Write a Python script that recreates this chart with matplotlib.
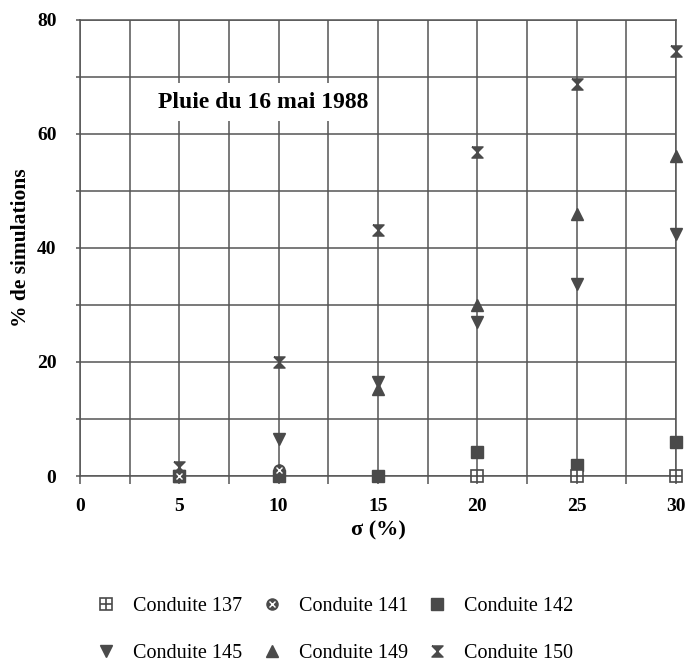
import numpy as np
import matplotlib
matplotlib.use('Agg')
import matplotlib.pyplot as plt
from matplotlib.ticker import MultipleLocator

plt.rcParams['font.family'] = ['Liberation Serif', 'DejaVu Serif']
plt.rcParams['font.weight'] = 'bold'

# sigma values (%)
sigma = [5, 10, 15, 20, 25, 30]

# % de simulations per conduite
c137 = [np.nan, np.nan, np.nan, 0.0, 0.0, 0.0]
c141 = [0.0, 1.0, np.nan, np.nan, np.nan, np.nan]
c142 = [0.0, 0.0, 0.0, 4.2, 2.0, 6.0]
c145 = [0.0, 6.5, 16.5, 27.0, 33.7, 42.5]
c149 = [0.0, 1.0, 15.2, 30.0, 46.0, 56.2]
c150 = [1.6, 20.0, 43.2, 56.8, 68.8, 74.5]

labels = ['Conduite 137', 'Conduite 141', 'Conduite 142',
          'Conduite 145', 'Conduite 149', 'Conduite 150']

col = '#4a4a4a'
hourglass = [(-1, 1), (1, 1), (-1, -1), (1, -1), (-1, 1)]

fig = plt.figure(figsize=(6.86, 6.65), dpi=100)
ax = fig.add_axes([0.1166, 0.2842, 0.8688, 0.6858])

kw = dict(ls='none', clip_on=False)
h142, = ax.plot(sigma, c142, 's', ms=8, color=col, zorder=5, **kw)
h145, = ax.plot(sigma, c145, 'v', ms=8, color=col, zorder=5, **kw)
h149, = ax.plot(sigma, c149, '^', ms=8, color=col, zorder=5, **kw)
h150, = ax.plot(sigma, c150, marker=hourglass, ms=8, color=col, zorder=5, **kw)
# 141: filled circle with cross
h141a, = ax.plot(sigma, c141, 'o', ms=8, mfc=col, mec=col, zorder=6, **kw)
h141b, = ax.plot(sigma, c141, 'x', ms=4, mec='white', mew=1.0, zorder=7, **kw)
# 137: square with a cross inside
h137a, = ax.plot(sigma, c137, 's', ms=9, mfc='white', mec=col, mew=1.2, zorder=6, **kw)
h137b, = ax.plot(sigma, c137, '+', ms=9, mec=col, mew=1.2, zorder=7, **kw)

ax.set_xlim(0, 30)
ax.set_ylim(0, 80)
ax.xaxis.set_major_locator(MultipleLocator(5))
ax.xaxis.set_minor_locator(MultipleLocator(2.5))
ax.yaxis.set_major_locator(MultipleLocator(20))
ax.yaxis.set_minor_locator(MultipleLocator(10))
ax.grid(which='both', color='#555555', lw=1.1)
ax.set_axisbelow(True)
for s in ax.spines.values():
    s.set_color('#555555')
    s.set_linewidth(1.1)
ax.tick_params(which='both', direction='out', length=6, color='#555555', width=1.1,
               labelsize=14, pad=10)
ax.tick_params(axis='y', which='both', length=3, pad=14)
for lab in ax.get_xticklabels() + ax.get_yticklabels():
    lab.set_fontweight('bold')

ax.set_xlabel('σ (%)', fontsize=16, fontweight='bold', labelpad=4)
ax.set_ylabel('% de simulations', fontsize=15.5, fontweight='bold')
ax.yaxis.set_label_coords(-0.082, 0.5)

ax.text(9.2, 65.6, 'Pluie du 16 mai 1988', fontsize=17, fontweight='bold',
        ha='center', va='center',
        bbox=dict(facecolor='white', edgecolor='none', pad=6), zorder=4)

handles = [(h137a, h137b), (h141a, h141b), h142, h145, h149, h150]
order = [0, 3, 1, 4, 2, 5]
fig.legend([handles[i] for i in order], [labels[i] for i in order],
           loc='center', bbox_to_anchor=(0.488, 0.0526), ncol=3, frameon=False,
           handlelength=1.0, handletextpad=0.85, columnspacing=0.95,
           labelspacing=1.4, prop={'weight': 'normal', 'size': 14.5})

fig.savefig('out.png', dpi=100)
